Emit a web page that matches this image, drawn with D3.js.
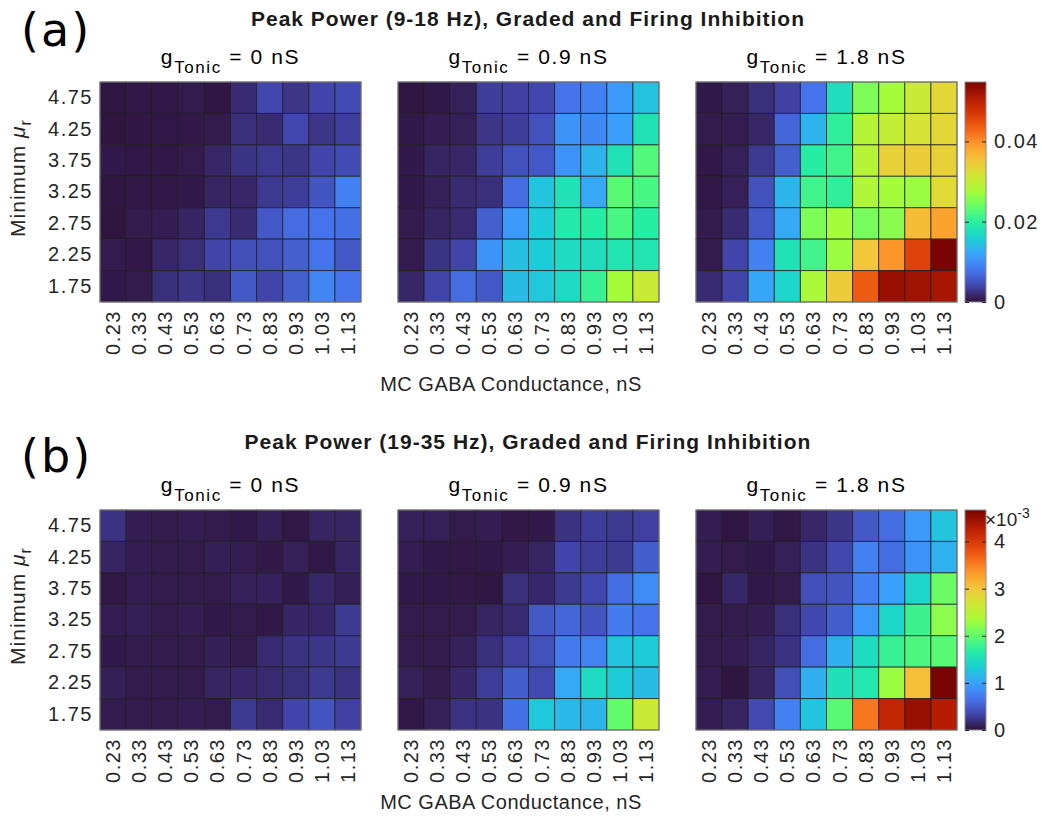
<!DOCTYPE html>
<html>
<head>
<meta charset="utf-8">
<script src="https://cdn.jsdelivr.net/npm/d3@7"></script>
<style>
  body { margin: 0; background: #fff; }
  svg text { font-family: "Liberation Sans", Arial, sans-serif; fill: #262626; }
</style>
</head>
<body>
<svg id="chart" width="1042" height="819"></svg>
<script>
// Axis categories
const conductances = ["0.23", "0.33", "0.43", "0.53", "0.63", "0.73", "0.83", "0.93", "1.03", "1.13"];
const minMuR = ["4.75", "4.25", "3.75", "3.25", "2.75", "2.25", "1.75"];
const tonicLevels = ["0", "0.9", "1.8"];

// Peak power, 9-18 Hz band (units of 1e-3); rows follow minMuR, columns follow conductances
const alphaTonic0 = [
  [0.27, 0.44, 0.49, 0.66, 0.38, 1.9, 4.1, 2.7, 3.9, 4.4],
  [0.16, 0.38, 0.44, 0.49, 0.66, 2.2, 1.9, 4.1, 2.7, 3.4],
  [0.55, 0.44, 0.44, 0.66, 1.6, 2.5, 3.0, 2.7, 3.8, 4.4],
  [0.27, 0.44, 0.44, 0.55, 1.4, 1.6, 3.0, 3.3, 5.2, 8.8],
  [0.22, 0.66, 0.82, 1.4, 3.0, 1.9, 5.5, 7.1, 7.7, 7.4],
  [0.66, 0.44, 1.6, 2.2, 3.8, 4.7, 4.9, 6.0, 7.7, 5.5],
  [0.55, 0.66, 2.2, 2.7, 2.2, 5.5, 3.8, 6.0, 9.3, 7.7]
];
const alphaTonic09 = [
  [0.27, 0.55, 1.1, 3.3, 3.6, 4.1, 7.7, 8.8, 11.0, 14.5],
  [0.55, 0.82, 1.1, 2.7, 3.3, 4.9, 10.4, 9.6, 11.5, 18.1],
  [0.55, 1.4, 1.6, 3.3, 4.9, 5.5, 10.4, 13.2, 18.1, 22.5],
  [0.55, 1.1, 1.9, 2.2, 7.1, 14.8, 18.1, 12.3, 23.0, 21.9],
  [0.66, 1.4, 1.9, 6.0, 11.0, 15.3, 19.2, 19.7, 21.9, 19.7],
  [0.66, 2.5, 3.8, 10.4, 14.2, 15.6, 17.3, 17.5, 18.6, 18.6],
  [1.6, 3.8, 7.1, 5.5, 14.0, 15.1, 17.0, 20.8, 27.4, 30.7]
];
const alphaTonic18 = [
  [0.55, 1.1, 2.2, 3.6, 7.7, 17.5, 25.2, 27.4, 30.7, 33.4],
  [0.66, 0.82, 1.6, 6.6, 13.2, 20.3, 29.0, 30.1, 31.8, 33.4],
  [0.44, 1.1, 3.0, 6.0, 19.7, 21.4, 29.0, 34.0, 34.5, 34.0],
  [0.44, 1.1, 4.9, 13.4, 21.4, 20.3, 28.5, 27.4, 26.9, 32.9],
  [0.66, 1.9, 5.5, 12.3, 25.2, 27.4, 24.7, 25.8, 36.2, 38.4],
  [0.66, 3.8, 8.8, 18.1, 21.4, 26.9, 35.1, 39.5, 46.0, 54.8],
  [1.9, 3.8, 12.1, 16.4, 27.9, 34.5, 43.8, 52.6, 52.1, 51.5]
];

// Peak power, 19-35 Hz band (units of 1e-3)
const betaTonic0 = [
  [0.21, 0.07, 0.056, 0.07, 0.056, 0.047, 0.084, 0.037, 0.12, 0.12],
  [0.12, 0.07, 0.056, 0.056, 0.084, 0.07, 0.037, 0.093, 0.037, 0.12],
  [0.037, 0.07, 0.056, 0.056, 0.056, 0.093, 0.10, 0.047, 0.14, 0.084],
  [0.07, 0.084, 0.056, 0.07, 0.047, 0.056, 0.037, 0.13, 0.14, 0.26],
  [0.047, 0.056, 0.056, 0.056, 0.084, 0.056, 0.16, 0.21, 0.23, 0.26],
  [0.084, 0.056, 0.056, 0.056, 0.12, 0.14, 0.16, 0.19, 0.26, 0.21],
  [0.056, 0.056, 0.056, 0.07, 0.056, 0.26, 0.16, 0.33, 0.44, 0.30]
];
const betaTonic09 = [
  [0.093, 0.093, 0.056, 0.07, 0.037, 0.047, 0.21, 0.28, 0.26, 0.30],
  [0.07, 0.047, 0.037, 0.047, 0.07, 0.12, 0.33, 0.28, 0.26, 0.51],
  [0.047, 0.047, 0.037, 0.028, 0.19, 0.14, 0.26, 0.35, 0.61, 0.84],
  [0.056, 0.056, 0.056, 0.12, 0.16, 0.47, 0.56, 0.44, 0.72, 0.65],
  [0.056, 0.056, 0.093, 0.19, 0.30, 0.42, 0.70, 0.77, 1.26, 1.31],
  [0.093, 0.056, 0.14, 0.28, 0.51, 0.37, 1.05, 1.45, 1.31, 1.19],
  [0.037, 0.093, 0.21, 0.21, 0.63, 1.28, 1.17, 1.14, 2.01, 2.62]
];
const betaTonic18 = [
  [0.07, 0.028, 0.084, 0.037, 0.14, 0.23, 0.47, 0.61, 0.93, 1.26],
  [0.07, 0.056, 0.047, 0.093, 0.21, 0.35, 0.75, 0.61, 0.89, 1.12],
  [0.028, 0.14, 0.047, 0.056, 0.40, 0.44, 0.75, 1.00, 1.40, 2.05],
  [0.056, 0.056, 0.07, 0.19, 0.35, 0.51, 0.93, 1.42, 1.80, 2.22],
  [0.056, 0.07, 0.12, 0.21, 0.61, 1.10, 1.47, 1.77, 1.89, 1.96],
  [0.07, 0.019, 0.12, 0.40, 1.10, 1.52, 1.61, 2.29, 3.06, 4.67],
  [0.07, 0.12, 0.37, 0.75, 1.26, 1.96, 3.55, 4.20, 4.48, 4.30]
];

// Colorbar tick values (units of 1e-3)
const alphaTicks = [0, 20, 40];
const betaTicks = [0, 1, 2, 3, 4];

// Turbo colormap anchor colours
const turboStops = ["#30123b", "#4145ab", "#4675ed", "#39a2fc", "#1bcfd4", "#24eca6", "#61fc6c",
  "#a4fc3b", "#d1e834", "#f3c63a", "#fe9b2d", "#f36315", "#d93806", "#b11901", "#7a0403"];
const turbo = d3.piecewise(d3.interpolateRgb, turboStops);

const svg = d3.select("#chart");
const panelLeft = [100, 398, 696];
const panelW = 261, panelH = 220;
const cbX = 965, cbW = 21;
const tickFont = "20px", tickSpacing = "1.5px";

const figures = [
  { tag: "(a)", title: "Peak Power (9-18 Hz), Graded and Firing Inhibition",
    panels: [alphaTonic0, alphaTonic09, alphaTonic18], top: 82, titleY: 26, tagY: 46, xLabelY: 391,
    ticks: alphaTicks, fmt: v => v === 0 ? "0" : d3.format(".2f")(v / 1000), exponent: false, id: "a" },
  { tag: "(b)", title: "Peak Power (19-35 Hz), Graded and Firing Inhibition",
    panels: [betaTonic0, betaTonic09, betaTonic18], top: 510, titleY: 449, tagY: 472, xLabelY: 809,
    ticks: betaTicks, fmt: v => String(v), exponent: true, id: "b" }
];

const defs = svg.append("defs");

figures.forEach(fig => {
  const top = fig.top;
  const vmax = d3.max(fig.panels.flat(2));
  const color = d3.scaleSequential(turbo).domain([0, vmax]);

  const x = d3.scaleBand().domain(conductances).range([0, panelW]).padding(0);
  const y = d3.scaleBand().domain(minMuR).range([0, panelH]).padding(0);

  // Figure tag and title
  svg.append("text").attr("x", 21).attr("y", fig.tagY)
    .style("font-family", "'DejaVu Sans', sans-serif").style("font-size", "46px")
    .style("letter-spacing", "2px").style("fill", "#000")
    .text(fig.tag);
  svg.append("text").attr("x", 528).attr("y", fig.titleY).attr("text-anchor", "middle")
    .style("font-size", "21px").style("font-weight", "bold").style("letter-spacing", "1px")
    .style("fill", "#1a1a1a")
    .text(fig.title);

  fig.panels.forEach((grid, p) => {
    const g = svg.append("g").attr("transform", `translate(${panelLeft[p]},${top})`);
    const cells = [];
    grid.forEach((row, r) => row.forEach((v, c) => cells.push({ r: minMuR[r], c: conductances[c], v })));

    g.selectAll("rect.cell").data(cells).join("rect")
      .attr("class", "cell")
      .attr("x", d => x(d.c)).attr("y", d => y(d.r))
      .attr("width", x.bandwidth()).attr("height", y.bandwidth())
      .attr("fill", d => color(d.v))
      .attr("stroke", "#1c1c1c").attr("stroke-opacity", 0.75).attr("stroke-width", 1);

    g.append("rect").attr("width", panelW).attr("height", panelH)
      .attr("fill", "none").attr("stroke", "#8a8a8a").attr("stroke-width", 1);

    // Panel subtitle
    const st = g.append("text").attr("x", panelW / 2).attr("y", -18).attr("text-anchor", "middle")
      .style("font-size", "21px").style("letter-spacing", "1.6px").style("fill", "#000");
    st.append("tspan").text("g");
    st.append("tspan").attr("dy", 9).style("font-size", "17px").text("Tonic");
    st.append("tspan").attr("dy", -9).text(` = ${tonicLevels[p]} nS`);

    // Bottom axis with rotated labels
    const xa = g.append("g").attr("transform", `translate(0,${panelH})`)
      .call(d3.axisBottom(x).tickSize(0).tickPadding(0));
    xa.select(".domain").remove();
    xa.selectAll("text")
      .attr("transform", "rotate(-90)")
      .attr("x", -8).attr("y", 0).attr("dy", "0.35em")
      .attr("text-anchor", "end")
      .style("font-size", tickFont).style("letter-spacing", tickSpacing).style("font-family", null);

    if (p === 0) {
      const ya = g.append("g").call(d3.axisLeft(y).tickSize(0).tickPadding(7));
      ya.select(".domain").remove();
      ya.selectAll("text").style("font-size", tickFont).style("letter-spacing", tickSpacing)
        .style("font-family", null);

      const yl = svg.append("text")
        .attr("transform", `translate(25,${top + panelH / 2 - 14}) rotate(-90)`)
        .attr("text-anchor", "middle").style("font-size", "21px").style("letter-spacing", "1px");
      yl.append("tspan").text("Minimum ");
      yl.append("tspan").style("font-style", "italic").text("\u03BC");
      yl.append("tspan").attr("dy", 6).style("font-size", "16px").text("r");
    }
  });

  // X axis title
  svg.append("text").attr("x", 511).attr("y", fig.xLabelY).attr("text-anchor", "middle")
    .style("font-size", "20px").style("letter-spacing", "0.5px").text("MC GABA Conductance, nS");

  // Colorbar
  const grad = defs.append("linearGradient").attr("id", "cb-" + fig.id)
    .attr("x1", 0).attr("y1", 1).attr("x2", 0).attr("y2", 0);
  d3.range(0, 1.0001, 0.02).forEach(t => grad.append("stop")
    .attr("offset", t).attr("stop-color", turbo(t)));

  const cbScale = d3.scaleLinear().domain([0, vmax]).range([top + panelH, top]);
  svg.append("rect").attr("x", cbX).attr("y", top).attr("width", cbW).attr("height", panelH)
    .attr("fill", `url(#cb-${fig.id})`).attr("stroke", "#8a8a8a").attr("stroke-width", 1);

  const cbAxis = svg.append("g").attr("transform", `translate(${cbX + cbW},0)`)
    .call(d3.axisRight(cbScale).tickValues(fig.ticks).tickFormat(fig.fmt).tickSize(-4).tickPadding(8));
  cbAxis.select(".domain").remove();
  cbAxis.selectAll("line").attr("stroke", "#262626");
  cbAxis.selectAll("text").style("font-size", tickFont).style("letter-spacing", tickSpacing)
    .style("font-family", null);
  const cbAxisL = svg.append("g").attr("transform", `translate(${cbX},0)`)
    .call(d3.axisLeft(cbScale).tickValues(fig.ticks).tickFormat("").tickSize(-4));
  cbAxisL.select(".domain").remove();
  cbAxisL.selectAll("line").attr("stroke", "#262626");

  if (fig.exponent) {
    const ex = svg.append("text").attr("x", cbX + 20).attr("y", top + 16).style("font-size", "19px");
    ex.append("tspan").text("\u00D710");
    ex.append("tspan").attr("dy", -8).style("font-size", "14px").text("-3");
  }
});
</script>
</body>
</html>
